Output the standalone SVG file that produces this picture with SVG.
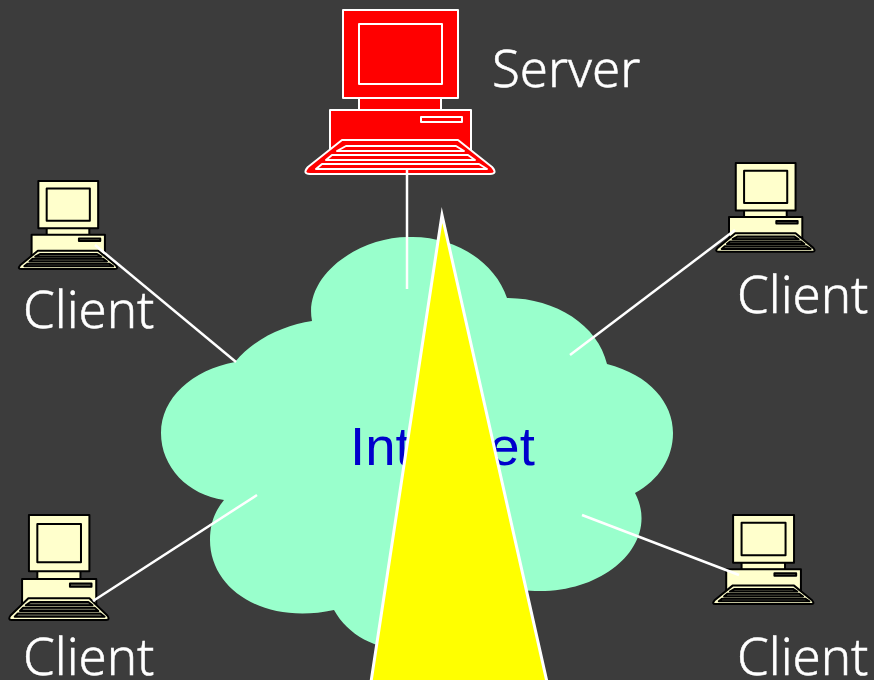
<svg xmlns="http://www.w3.org/2000/svg" width="874" height="680" viewBox="0 0 874 680">
<style>
.lbl{font-family:"Noto Sans","Open Sans","Liberation Sans",sans-serif;font-size:51px;fill:#fff;stroke:#fff;stroke-width:.5;font-weight:300}
.s{vector-effect:non-scaling-stroke;stroke-linejoin:round;stroke:var(--st);stroke-width:var(--sw);fill:var(--fi)}
.d{fill:var(--da)}
.w{--st:#fff;--sw:2px;--fi:#f00;--da:#f00}
.k{--st:#000;--sw:2px;--fi:#ffc;--da:#665}
.c{stroke:#fff;stroke-width:2.5;fill:none}
</style>
<defs>
<g id="pc">
<rect class="s" x="359" y="97" width="82" height="14"/>
<rect class="s" x="330" y="110" width="141" height="45"/>
<rect class="s d" x="421" y="117" width="41" height="5"/>
<rect class="s" x="343" y="10" width="115" height="88"/>
<rect class="s" x="359" y="24" width="83" height="60"/>
<path class="s" d="M342 140H458L492 167Q498 174 490 174H310Q302 174 308 167Z"/>
<path class="s d" d="M346 146H456L464 151H337Z"/>
<path class="s d" d="M332 155H468L475 160H326Z"/>
<path class="s d" d="M322 164H479L487 169H316Z"/>
</g>
</defs>
<rect width="874" height="680" fill="#3c3c3c"/>
<g id="cloud">
<path d="M235 362C255 338 285 325 312 321C303 275 360 236 410 237C455 236 495 262 507 298C555 298 598 325 607 364C650 375 673 403 673 433C673 458 659 480 635 493C660 540 610 591 540 591C525 591 515 590 505 588C495 625 450 650 410 650C375 650 348 635 334 610C265 625 210 590 210 540C210 525 214 512 224 500C188 495 161 467 161 433C161 398 192 370 235 362Z" fill="#9fc"/>
<text x="350" y="465" font-family="Liberation Sans, Arial, sans-serif" font-size="54.5" fill="#00c">Internet</text>
</g>
<g id="server" class="w"><use href="#pc"/><text class="lbl" x="492" y="87">Server</text></g>
<g id="client-tl" class="k"><use href="#pc" transform="translate(-140 175.6) scale(.52 .537)"/><text class="lbl" x="23" y="328">Client</text></g>
<g id="client-tr" class="k"><use href="#pc" transform="translate(557.4 157.7) scale(.52 .54)"/><text class="lbl" x="737" y="313">Client</text></g>
<g id="client-bl" class="k"><use href="#pc" transform="translate(-151.5 508.6) scale(.526 .64)"/><text class="lbl" x="23" y="675">Client</text></g>
<g id="client-br" class="k"><use href="#pc" transform="translate(551.3 509.6) scale(.53 .543)"/><text class="lbl" x="737" y="675">Client</text></g>
<g id="connectors">
<path class="c" d="M407 168V289"/>
<path class="c" d="M95 245L236 362"/>
<path class="c" d="M735 230L570 355"/>
<path class="c" d="M257 495L93 601"/>
<path class="c" d="M582 515L739 575"/>
</g>
<path id="beam" d="M442 215L371 682H547Z" fill="#ff0" stroke="#fff" stroke-width="3" stroke-miterlimit="20"/>
</svg>
